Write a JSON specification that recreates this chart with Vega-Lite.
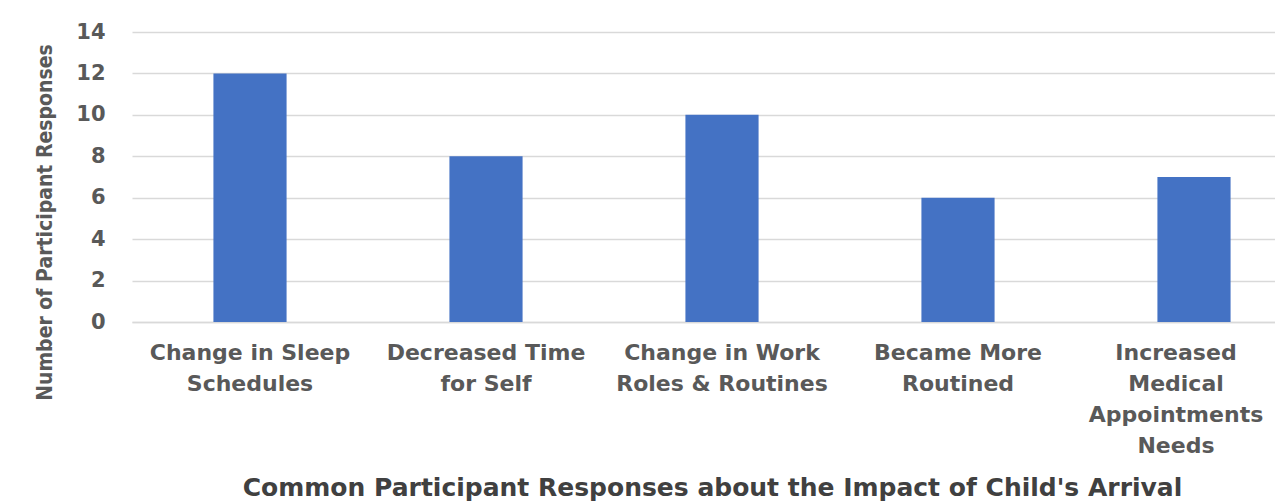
{
  "$schema": "https://vega.github.io/schema/vega-lite/v6.json",
  "autosize": "none",
  "padding": {"left": 132, "top": 32, "right": 0, "bottom": 180},
  "width": 1180,
  "height": 290,
  "background": "white",
  "data": {
    "values": [
      {"response": "Change in Sleep|Schedules", "count": 12},
      {"response": "Decreased Time|for Self", "count": 8},
      {"response": "Change in Work|Roles & Routines", "count": 10},
      {"response": "Became More|Routined", "count": 6},
      {"response": "Increased|Medical|Appointments|Needs", "count": 7}
    ]
  },
  "mark": {"type": "bar", "color": "#4472C4"},
  "encoding": {
    "x": {
      "field": "response",
      "type": "nominal",
      "sort": null,
      "scale": {"paddingInner": 0.69, "paddingOuter": 0.345},
      "axis": {
        "title": "Common Participant Responses about the Impact of Child's Arrival",
        "titleFont": "DejaVu Sans",
        "titleFontSize": 25,
        "titleFontWeight": "bold",
        "titleColor": "#404040",
        "titleX": 580,
        "titleY": 165,
        "titleBaseline": "middle",
        "labelExpr": "split(datum.label, '|')",
        "labelAngle": 0,
        "labelFont": "DejaVu Sans",
        "labelFontSize": 22,
        "labelFontWeight": "bold",
        "labelColor": "#595959",
        "labelLineHeight": 31,
        "labelPadding": 20,
        "labelBaseline": "top",
        "labelOffset": {"condition": {"test": "datum.value === 'Increased|Medical|Appointments|Needs'", "value": -18}, "value": 0},
        "ticks": false,
        "domain": true,
        "domainColor": "#d9d9d9",
        "domainWidth": 1.5,
        "labelLimit": 300
      }
    },
    "y": {
      "field": "count",
      "type": "quantitative",
      "scale": {"domain": [0, 14], "nice": false},
      "axis": {
        "title": "Number of Participant Responses",
        "titleFont": "DejaVu Sans Condensed",
        "titleFontSize": 21,
        "titleFontWeight": "bold",
        "titleColor": "#595959",
        "titleX": -87,
        "titleY": 190,
        "titleAngle": -90,
        "titleBaseline": "middle",
        "values": [0, 2, 4, 6, 8, 10, 12, 14],
        "labelFont": "DejaVu Sans",
        "labelFontSize": 21,
        "labelFontWeight": "bold",
        "labelColor": "#595959",
        "labelPadding": 27,
        "ticks": false,
        "domain": false,
        "grid": true,
        "gridColor": "#d9d9d9",
        "gridWidth": 1.5
      }
    }
  },
  "config": {"view": {"stroke": null}}
}
